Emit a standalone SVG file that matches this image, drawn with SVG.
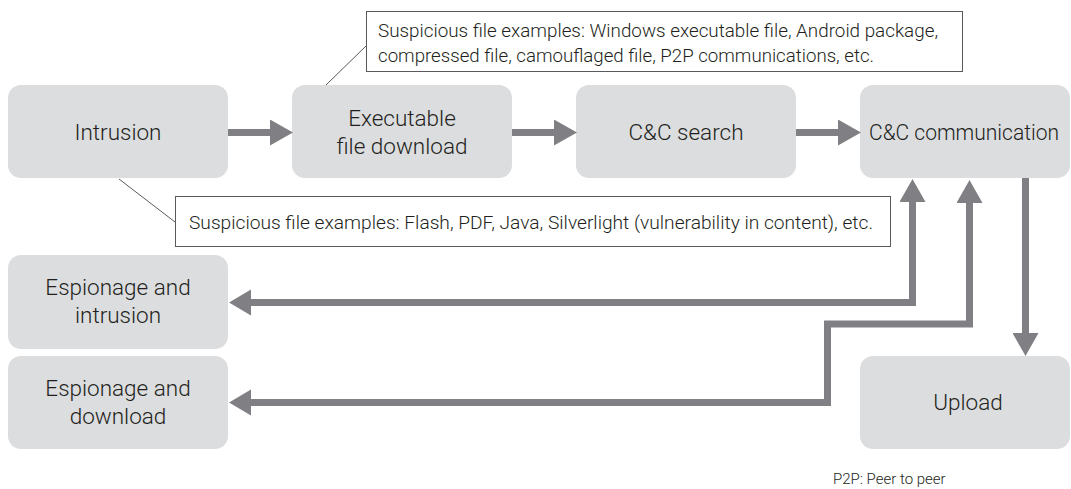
<svg xmlns="http://www.w3.org/2000/svg" width="1071" height="489" viewBox="0 0 1071 489">
<style>
.box{fill:#dcdddf}
.lbl{font-family:Roboto,"Liberation Sans",sans-serif;font-weight:300;font-size:22.5px;fill:#231f20;text-anchor:middle}
.note{font-family:Roboto,"Liberation Sans",sans-serif;font-weight:300;font-size:19px;fill:#231f20}
.callout{fill:#fff;stroke:#5a5a5c;stroke-width:1}
.leader{stroke:#5a5a5c;stroke-width:1;fill:none}
.conn{stroke:#808084;stroke-width:7;fill:none;stroke-linejoin:miter}
.head{fill:#808084}
</style>
<defs>
<marker id="ah" markerUnits="userSpaceOnUse" markerWidth="23" markerHeight="26" refX="0" refY="13" orient="auto" viewBox="0 0 23 26">
<path d="M0,0 L23,13 L0,26 Z" fill="#808084"/>
</marker>
</defs>
<rect width="1071" height="489" fill="#fff"/>

<g id="intrusion"><rect class="box" x="8" y="85" width="220" height="93" rx="13"/><text class="lbl" x="118" y="140">Intrusion</text></g>
<g id="exec-download"><rect class="box" x="292" y="85" width="220" height="93" rx="13"/><text class="lbl" x="402" y="126">Executable</text><text class="lbl" x="402" y="154">file download</text></g>
<g id="cc-search"><rect class="box" x="576" y="85" width="220" height="93" rx="13"/><text class="lbl" x="686" y="140">C&amp;C search</text></g>
<g id="cc-comm"><rect class="box" x="860" y="85" width="210" height="93" rx="13"/><text class="lbl" x="964" y="140" textLength="190" lengthAdjust="spacingAndGlyphs">C&amp;C communication</text></g>
<g id="esp-intrusion"><rect class="box" x="8" y="255" width="220" height="94" rx="13"/><text class="lbl" x="118" y="295">Espionage and</text><text class="lbl" x="118" y="323">intrusion</text></g>
<g id="esp-download"><rect class="box" x="8" y="356" width="220" height="93" rx="13"/><text class="lbl" x="118" y="396">Espionage and</text><text class="lbl" x="118" y="424">download</text></g>
<g id="upload"><rect class="box" x="860" y="356" width="210" height="93" rx="13"/><text class="lbl" x="968" y="410">Upload</text></g>

<g id="note-top"><line class="leader" x1="326" y1="85" x2="366" y2="46"/><rect class="callout" x="366.5" y="11.5" width="596" height="60"/><text class="note" x="378" y="37" textLength="560" lengthAdjust="spacingAndGlyphs">Suspicious file examples: Windows executable file, Android package,</text><text class="note" x="378" y="62" textLength="496" lengthAdjust="spacingAndGlyphs">compressed file, camouflaged file, P2P communications, etc.</text></g>
<g id="note-bottom"><line class="leader" x1="119" y1="179" x2="175" y2="222"/><rect class="callout" x="175.5" y="196.5" width="715" height="50"/><text class="note" x="189" y="229" textLength="684" lengthAdjust="spacingAndGlyphs">Suspicious file examples: Flash, PDF, Java, Silverlight (vulnerability in content), etc.</text></g>

<g id="connectors">
<path class="conn" d="M228,132.5 H270" marker-end="url(#ah)"/>
<path class="conn" d="M512,132.5 H554" marker-end="url(#ah)"/>
<path class="conn" d="M796,132.5 H838" marker-end="url(#ah)"/>
<path class="conn" d="M1025.5,178 V333" marker-end="url(#ah)"/>
<path class="conn" d="M251,302.5 H912.5 V202" marker-end="url(#ah)"/>
<path class="conn" d="M251,402.5 H827.5 V324 H969.5 V203" marker-end="url(#ah)"/>
<path class="head" d="M251,289.5 L229,302.5 L251,315.5 Z"/>
<path class="head" d="M251,389.5 L229,402.5 L251,415.5 Z"/>
</g>

<text id="footnote" x="833" y="484" style="font-family:Roboto,'Liberation Sans',sans-serif;font-weight:300;font-size:15px;fill:#231f20">P2P: Peer to peer</text>
</svg>
